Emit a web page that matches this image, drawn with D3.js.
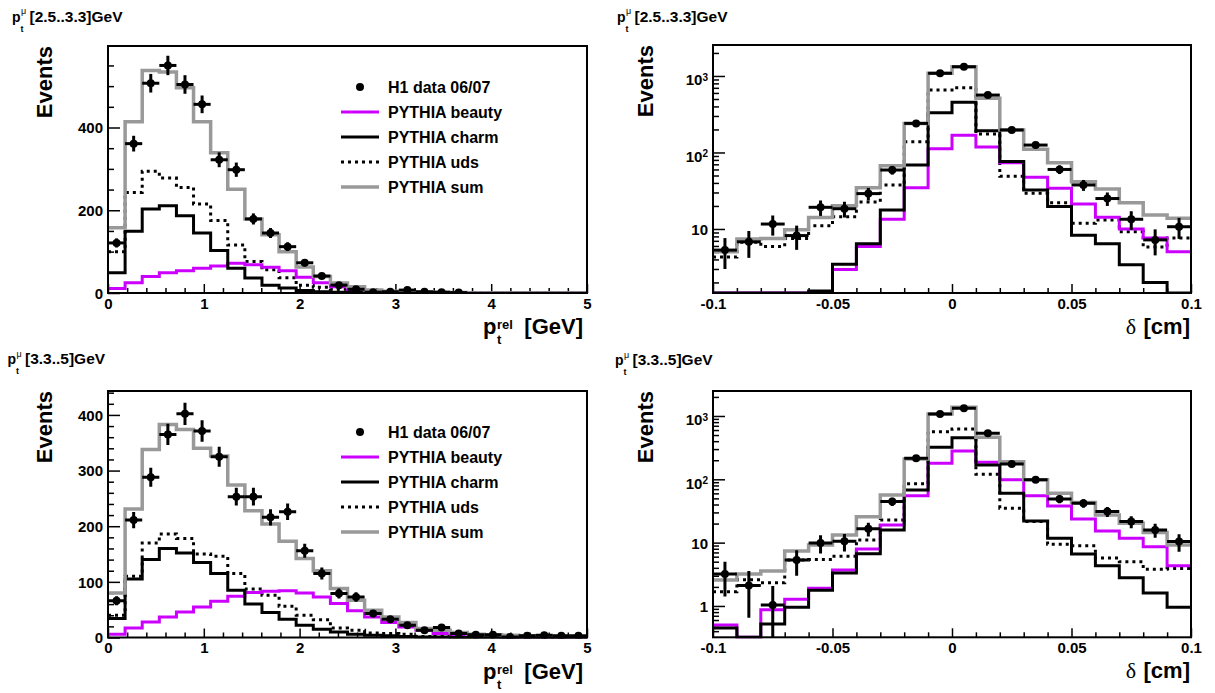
<!DOCTYPE html>
<html><head><meta charset="utf-8">
<script src="https://cdn.jsdelivr.net/npm/d3@7"></script>
<style>
body{margin:0;background:#fff;}
svg text{font-family:"Liberation Sans",Arial,Helvetica,sans-serif;font-weight:bold;fill:#000;}
</style></head><body>
<svg id="c" width="1215" height="693"></svg>
<script>
// ---------------- data ----------------
const ptrelNBins = 28, ptrelRange = [0, 5];
const deltaNBins = 20, deltaRange = [-0.1, 0.1];
const ptrelTicks = [0, 1, 2, 3, 4, 5];
const deltaTicks = [-0.1, -0.05, 0, 0.05, 0.1];
const deltaTickLabels = ["-0.1", "-0.05", "0", "0.05", "0.1"];
const legendLabels = ["H1 data 06/07", "PYTHIA beauty", "PYTHIA charm", "PYTHIA uds", "PYTHIA sum"];
const titleLow = "[2.5..3.3]GeV", titleHigh = "[3.3..5]GeV";

// p_t^mu [2.5..3.3] GeV, p_t^rel
const ptLowData   = [121,361,507,550,504,456,322,298,179,145,112,73,41,19,9,2,3,7,3,2,1,0,0,0,0,0,0,0];
const ptLowSum    = [158,414,538,534,496,414,339,251,179,141,100,63,40,24,15,7,4,3,2,1,1,0,0,0,0,0,0,0];
const ptLowBeauty = [11,25,40,49,54,60,65,72,68,62,54,38,25,15,9,4,2,1,1,0,0,0,0,0,0,0,0,0];
const ptLowCharm  = [49,149,203,211,187,145,103,60,36,19,12,6,3,2,1,1,0,0,0,0,0,0,0,0,0,0,0,0];
const ptLowUds    = [100,243,294,278,255,215,175,116,76,56,37,19,14,9,6,3,2,1,1,0,0,0,0,0,0,0,0,0];
// p_t^mu [3.3..5] GeV, p_t^rel
const ptHighData   = [66,211,288,365,402,371,325,253,253,216,226,156,115,79,73,43,33,22,13,18,7,5,5,1,3,4,3,3];
const ptHighSum    = [80,231,338,383,374,340,326,274,228,204,173,142,120,88,67,49,37,27,16,13,9,6,5,4,3,2,2,1];
const ptHighBeauty = [6,17,28,37,46,55,65,74,81,83,84,80,73,61,48,37,27,19,13,7,4,3,2,1,1,1,0,0];
const ptHighCharm  = [34,105,140,160,152,135,115,85,60,45,33,22,15,10,6,4,3,2,1,1,0,0,0,0,0,0,0,0];
const ptHighUds    = [40,110,170,186,178,150,146,115,87,76,56,40,32,17,13,8,7,6,2,5,5,3,3,3,2,1,2,1];
// p_t^mu [2.5..3.3] GeV, delta
const dLowData   = [5.3,6.8,11.6,8.2,19.2,18.4,29,59,240,1084,1320,563,197,125,60,37.6,25,13.4,7.2,10.7];
const dLowSum    = [5.05,7.4,7.5,9.8,14.1,20.1,34.5,67,240,1084,1320,510,197,110,73.6,41.5,33.3,22,15.2,13.8];
const dLowBeauty = [0,0,0,0,1.0,2.95,5.9,13.4,34.7,112,168,118,73.6,47.5,34,21.2,14.2,10,7.6,5.05];
const dLowCharm  = [0,0,0,0,1.55,3.45,6.4,17.7,68.7,331,453,193,76,32.4,19.6,8.3,6.4,3.4,2.0,1.2];
const dLowUds    = [4.3,6.7,5.9,7.5,11,14.5,22.5,37.6,138,656,703,175,49,29.3,22,11.9,13.1,9.2,5.8,7.6];
// p_t^mu [3.3..5] GeV, delta
const dHighData   = [3.2,2.1,1.04,5.3,9.9,10.5,16.6,44.5,215,1078,1320,535,175,98,49,42,31,21.5,15.9,10.4];
const dHighSum    = [2.58,3.2,3.55,7.4,9.2,13.2,25.7,56.7,210,1078,1370,462,190,98,60,43,27.4,20.2,14.4,9.2];
const dHighBeauty = [0.5,0,0.87,1.28,1.9,3.7,7.9,19,55,180,280,186,98,55,38,23.6,15.3,11.7,8.6,4.3];
const dHighCharm  = [0.45,0,0.52,0.95,1.77,3.33,6.7,15.9,68,320,455,169,60,22,11.7,6.6,4.3,2.8,1.6,0.95];
const dHighUds    = [1.68,2.6,2.33,5.3,5.4,6.1,11,22.8,85,565,625,120,35,21.5,9.4,8.9,5.7,5.0,3.8,3.9];

// ---------------- style ----------------
const C_GRAY = "#999999", C_MAG = "#cc00ff", C_BLK = "#000000";
const LW = 3;

const svg = d3.select("#c");

function logMinors(dom) {
  const out = [];
  for (let k = Math.floor(Math.log10(dom[0])); k <= Math.ceil(Math.log10(dom[1])); k++)
    for (let m = 2; m <= 9; m++) { const v = m * Math.pow(10, k); if (v >= dom[0] && v <= dom[1]) out.push(v); }
  return out;
}

const panels = [
  {id:"tl", kind:"ptrel", x0:108, x1:587, y0:46, y1:293, log:false, ydom:[0,597],
   ymajor:[0,200,400], yminor:d3.range(0,597,50),
   data:ptLowData, sum:ptLowSum, beauty:ptLowBeauty, charm:ptLowCharm, uds:ptLowUds,
   title:titleLow, tx:12, ty:21.7, evX:52, legend:{x:340, y:87}},
  {id:"tr", kind:"delta", x0:713, x1:1191, y0:45, y1:293, log:true, ydom:[1.456,2540],
   ymajor:[10,100,1000],
   data:dLowData, sum:dLowSum, beauty:dLowBeauty, charm:dLowCharm, uds:dLowUds,
   title:titleLow, tx:617, ty:21.7, evX:653},
  {id:"bl", kind:"ptrel", x0:108, x1:587, y0:391, y1:637.5, log:false, ydom:[0,443],
   ymajor:[0,100,200,300,400], yminor:d3.range(0,443,20),
   data:ptHighData, sum:ptHighSum, beauty:ptHighBeauty, charm:ptHighCharm, uds:ptHighUds,
   title:titleHigh, tx:7.5, ty:364, evX:52, legend:{x:340, y:432}},
  {id:"br", kind:"delta", x0:713, x1:1191, y0:391, y1:637.3, log:true, ydom:[0.32,2480],
   ymajor:[1,10,100,1000],
   data:dHighData, sum:dHighSum, beauty:dHighBeauty, charm:dHighCharm, uds:dHighUds,
   title:titleHigh, tx:615, ty:365, evX:653}
];

function drawPanel(p) {
  const isPt = p.kind === "ptrel";
  const nb = isPt ? ptrelNBins : deltaNBins;
  const xdom = isPt ? ptrelRange : deltaRange;
  const edges = d3.range(nb + 1).map(i => xdom[0] + (xdom[1] - xdom[0]) * i / nb);
  const x = d3.scaleLinear().domain(xdom).range([p.x0, p.x1]);
  const y = (p.log ? d3.scaleLog() : d3.scaleLinear()).domain(p.ydom).range([p.y1, p.y0]);
  const ymin = p.ydom[0];
  const cl = v => p.log ? Math.max(v, ymin) : v;

  const g = svg.append("g");
  svg.append("clipPath").attr("id", "clip" + p.id).append("rect")
    .attr("x", p.x0).attr("y", p.y0 - 2).attr("width", p.x1 - p.x0).attr("height", p.y1 - p.y0 + 3);

  // axes (ticks inside)
  const xMinor = isPt ? d3.range(0, 5.0001, 0.2).filter(v => Math.abs(v - Math.round(v)) > 1e-6)
                      : d3.range(-0.1, 0.10001, 0.01).filter(v => Math.abs(v * 20 - Math.round(v * 20)) > 1e-6);
  const xAx = d3.axisBottom(x).tickValues(isPt ? ptrelTicks : deltaTicks).tickSizeInner(-9).tickSizeOuter(0).tickPadding(5)
    .tickFormat((d, i) => isPt ? d3.format("d")(d) : deltaTickLabels[i]);
  g.append("g").attr("transform", `translate(0,${p.y1})`).call(xAx);
  g.append("g").attr("transform", `translate(0,${p.y1})`)
    .call(d3.axisBottom(x).tickValues(xMinor).tickSizeInner(-5).tickSizeOuter(0).tickFormat(""));

  const yMinor = p.log ? logMinors(p.ydom) : p.yminor.filter(v => !p.ymajor.includes(v));
  const yAx = d3.axisLeft(y).tickValues(p.ymajor).tickSizeInner(-12).tickSizeOuter(0).tickPadding(5)
    .tickFormat(d => p.log ? (d >= 100 ? "10" : String(d)) : String(d));
  const gy = g.append("g").attr("transform", `translate(${p.x0},0)`).call(yAx);
  g.append("g").attr("transform", `translate(${p.x0},0)`)
    .call(d3.axisLeft(y).tickValues(yMinor).tickSizeInner(-6).tickSizeOuter(0).tickFormat(""));

  g.selectAll(".domain").remove();
  g.selectAll(".tick line").attr("stroke", "#000").attr("stroke-width", 1.5);
  g.selectAll(".tick text").style("font-size", "15px").style("font-family", "'Liberation Sans',Arial,sans-serif").style("font-weight", "bold");
  gy.selectAll(".tick text").attr("dy", "0.36em");
  if (p.log) {
    gy.selectAll(".tick text").each(function (d) {
      if (d >= 100) {
        const t = d3.select(this).attr("dy", "0.6em");
        t.append("tspan").text(String(Math.round(Math.log10(d))))
          .attr("dy", "-0.45em").style("font-size", "10px");
      }
    });
  }

  // histograms
  const hg = g.append("g").attr("clip-path", `url(#clip${p.id})`);
  const line = d3.line().x(d => x(d[0])).y(d => y(cl(d[1]))).curve(d3.curveStepAfter);
  const pts = vals => { const a = vals.map((v, i) => [edges[i], v]); a.push([edges[nb], vals[nb - 1]]); return a; };
  hg.append("path").attr("d", line(pts(p.uds))).attr("fill", "none").attr("stroke", C_BLK)
    .attr("stroke-width", LW).attr("stroke-dasharray", "3,4");
  hg.append("path").attr("d", line(pts(p.beauty))).attr("fill", "none").attr("stroke", C_MAG).attr("stroke-width", LW);
  hg.append("path").attr("d", line(pts(p.charm))).attr("fill", "none").attr("stroke", C_BLK).attr("stroke-width", LW);
  hg.append("path").attr("d", line(pts(p.sum))).attr("fill", "none").attr("stroke", C_GRAY).attr("stroke-width", LW + 0.5);

  // data points
  const dg = hg.append("g");
  p.data.forEach((v, i) => {
    if (v <= 0) return;
    const e = Math.sqrt(v);
    const xc = x((edges[i] + edges[i + 1]) / 2);
    dg.append("line").attr("x1", x(edges[i])).attr("x2", x(edges[i + 1])).attr("y1", y(cl(v))).attr("y2", y(cl(v)))
      .attr("stroke", C_BLK).attr("stroke-width", LW);
    dg.append("line").attr("x1", xc).attr("x2", xc).attr("y1", y(cl(v - e))).attr("y2", y(Math.min(v + e, p.ydom[1])))
      .attr("stroke", C_BLK).attr("stroke-width", LW);
    dg.append("circle").attr("cx", xc).attr("cy", y(cl(v))).attr("r", 4).attr("fill", C_BLK);
  });

  // frame
  g.append("rect").attr("x", p.x0).attr("y", p.y0).attr("width", p.x1 - p.x0).attr("height", p.y1 - p.y0)
    .attr("fill", "none").attr("stroke", "#000").attr("stroke-width", 2);

  // y title
  g.append("text").attr("transform", `translate(${p.evX},${p.y0}) rotate(-90)`).attr("text-anchor", "end")
    .style("font-size", "22px").text("Events");

  // x title
  const tb = p.y1 + 41;
  if (isPt) {
    g.append("text").attr("x", p.x1 - 104).attr("y", tb).style("font-size", "22px").text("p");
    g.append("text").attr("x", p.x1 - 90).attr("y", tb - 5).style("font-size", "13px").text("rel");
    g.append("text").attr("x", p.x1 - 90).attr("y", tb + 10).style("font-size", "13px").text("t");
    g.append("text").attr("x", p.x1 - 4).attr("y", tb).attr("text-anchor", "end").style("font-size", "22px").text("[GeV]");
  } else {
    g.append("text").attr("x", p.x1 - 55).attr("y", tb).attr("text-anchor", "end")
      .style("font-family", "'Liberation Serif',serif").style("font-weight", "normal").style("font-size", "22px").text("δ");
    g.append("text").attr("x", p.x1 - 1).attr("y", tb).attr("text-anchor", "end").style("font-size", "22px").text("[cm]");
  }

  // panel title  p_t^mu[..]GeV
  g.append("text").attr("x", p.tx).attr("y", p.ty).style("font-size", "14px").text("p");
  g.append("text").attr("x", p.tx + 8.6).attr("y", p.ty + 10).style("font-size", "9px").text("t");
  g.append("text").attr("x", p.tx + 9).attr("y", p.ty - 7.5).style("font-size", "9px")
    .style("font-weight", "normal").text("μ");
  g.append("text").attr("x", p.tx + 17.5).attr("y", p.ty).style("font-size", "15.5px").text(p.title);

  // legend
  if (p.legend) {
    const L = p.legend, dy = 25;
    const lg = g.append("g");
    legendLabels.forEach((lab, i) => {
      const yy = L.y + i * dy;
      lg.append("text").attr("x", L.x + 48).attr("y", yy + 5.5).style("font-size", "16px").text(lab);
    });
    lg.append("circle").attr("cx", L.x + 20).attr("cy", L.y).attr("r", 4).attr("fill", C_BLK);
    const sty = [[C_MAG, null, LW], [C_BLK, null, LW], [C_BLK, "3,4", LW], [C_GRAY, null, LW + 0.5]];
    sty.forEach((s, j) => {
      const yy = L.y + (j + 1) * dy;
      const ln = lg.append("line").attr("x1", L.x + 1).attr("x2", L.x + 39).attr("y1", yy).attr("y2", yy)
        .attr("stroke", s[0]).attr("stroke-width", s[2]);
      if (s[1]) ln.attr("stroke-dasharray", s[1]);
    });
  }
}

panels.forEach(drawPanel);
</script></body></html>
